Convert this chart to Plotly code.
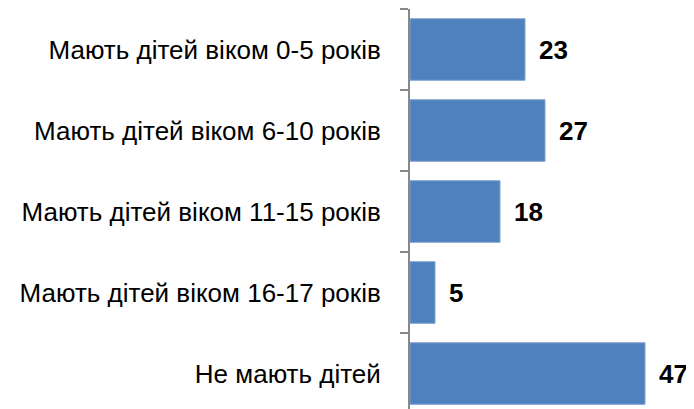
import plotly.graph_objects as go

categories = ["Мають дітей віком 0-5 років", "Мають дітей віком 6-10 років",
              "Мають дітей віком 11-15 років", "Мають дітей віком 16-17 років",
              "Не мають дітей"]
values = [23, 27, 18, 5, 47]

fig = go.Figure()
fig.add_trace(go.Bar(
    x=values, y=categories, orientation="h",
    marker=dict(color="#4F81BD", line=dict(color="#7FA3D0", width=1)),
    hoverinfo="skip",
))
for c, v in zip(categories, values):
    fig.add_annotation(x=v, y=c, text=f"<b>{v}</b>", showarrow=False,
                       xanchor="left", xshift=12,
                       font=dict(family="Liberation Sans, Arial, sans-serif",
                                 size=26, color="black"))

# page body has an 8px margin, so the figure is sized to fit the 694x409 window
fig.update_layout(
    width=686, height=401,
    margin=dict(l=402, r=0, t=1, b=0),
    paper_bgcolor="white", plot_bgcolor="white",
    bargap=0.24, showlegend=False,
)
fig.update_xaxes(range=[0, 56.8], visible=False, showgrid=False, zeroline=False,
                 automargin=False)
fig.update_yaxes(
    type="category", range=[4.438, -0.5], tickson="boundaries", automargin=False,
    ticks="outside", ticklen=8, tickcolor="#888888", tickwidth=2,
    showline=True, linecolor="#888888", linewidth=2, showgrid=False,
    ticklabelstandoff=22,
    tickfont=dict(family="Liberation Sans, Arial, sans-serif",
                  size=26, color="black"),
)
fig.write_html("out.html")
